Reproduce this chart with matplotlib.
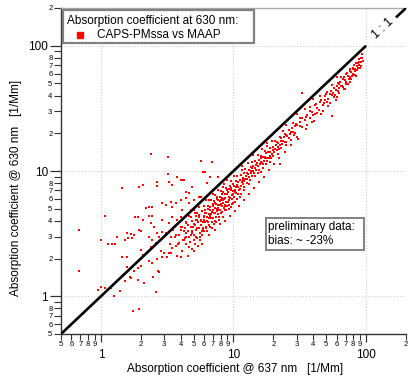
import numpy as np
import matplotlib
matplotlib.use('Agg')
import matplotlib.pyplot as plt
from matplotlib.ticker import LogLocator, FuncFormatter
from matplotlib.patches import Rectangle
from matplotlib.lines import Line2D

plt.rcParams['font.family'] = ['Liberation Sans', 'DejaVu Sans']

# MAAP absorption @ 637 nm (x) vs CAPS-PMssa absorption @ 630 nm (y), 1/Mm
# scattered points at low concentrations
cloud_pairs = [
    (2.40, 13.6), (3.22, 12.9), (5.67, 12.0), (3.22, 9.46), (3.76, 8.96), (2.66, 8.2),
    (3.27, 8.2), (3.45, 7.7), (4.02, 8.5), (4.23, 8.5), (2.06, 7.7), (1.95, 7.5),
    (1.43, 7.3), (2.66, 7.6), (5.87, 9.8),
    (0.685, 3.40), (0.685, 1.58), (1.07, 4.39), (1.0, 2.83), (0.95, 1.12), (1.0, 1.18),
    (1.07, 1.16), (1.13, 2.63), (1.21, 2.63), (1.27, 2.63), (1.32, 2.99), (1.19, 1.16),
    (1.25, 1.0), (1.39, 1.10), (1.43, 2.04), (1.56, 2.04), (1.56, 1.70), (1.51, 1.32),
    (1.65, 1.42), (1.70, 1.39), (1.76, 0.76), (1.95, 0.79), (1.79, 1.58), (1.89, 1.36),
    (1.92, 1.67), (2.02, 1.73), (2.06, 2.15), (2.13, 1.27), (2.02, 2.36), (1.95, 3.40),
    (2.02, 3.34), (1.82, 4.31), (1.89, 4.31), (2.06, 4.08), (1.56, 3.22), (1.59, 2.94),
    (1.70, 3.16), (1.79, 3.10), (1.73, 2.94), (1.51, 2.83), (2.20, 5.09), (2.32, 5.18),
    (2.44, 5.18), (2.32, 4.39), (2.44, 4.39), (2.40, 3.86), (2.53, 3.59), (2.32, 2.99),
    (2.44, 2.83), (2.40, 2.49), (2.62, 2.68), (2.32, 1.90), (2.44, 1.86), (2.66, 1.97),
    (2.75, 1.55), (2.49, 1.42), (2.71, 1.58), (2.62, 1.08), (2.90, 2.04), (2.99, 2.23),
    (3.27, 2.23), (3.17, 2.04), (3.45, 2.45), (2.85, 2.28), (2.90, 5.57), (3.10, 5.37),
    (3.39, 5.67), (3.45, 5.18), (3.69, 5.57), (4.02, 5.88), (4.38, 6.11), (4.61, 6.7),
    (5.03, 4.9), (2.90, 4.08), (3.27, 3.86), (3.45, 4.31), (3.76, 4.08), (4.02, 3.59),
    (4.38, 3.86), (4.77, 4.31), (5.19, 4.08), (5.47, 4.47), (3.10, 3.22), (3.39, 2.99),
    (3.69, 3.10), (4.02, 3.40), (4.38, 2.99), (4.86, 3.22), (5.29, 3.53), (3.88, 2.68),
    (4.23, 2.83), (4.61, 2.49), (5.03, 2.28), (3.76, 2.08), (4.02, 2.04), (2.90, 3.28),
    (2.66, 3.22), (2.75, 2.99),
    (6.85, 11.8), (6.07, 9.8), (6.28, 8.0), (7.7, 8.9), (5.47, 6.2), (4.08, 8.5),
    (4.38, 6.8), (4.86, 7.5), (5.03, 5.9), (4.61, 5.6), (5.67, 6.2), (4.08, 4.9),
    (6.7, 9.0), (7.7, 9.0), (5.96, 9.8),
    (32.7, 41.6), (55.7, 27.3), (22.5, 11.4),
]

# main band below the 1:1 line
band_pairs = [
    (3.9, 3.1), (4.1, 3.6), (4.3, 2.9), (4.4, 3.9), (4.5, 3.3), (4.6, 4.4), (4.7, 2.7),
    (4.8, 3.6), (4.9, 4.0), (5.0, 3.1), (5.1, 4.6), (5.2, 3.4), (5.3, 2.9), (5.4, 3.9),
    (5.5, 4.3), (5.6, 3.2), (5.7, 3.7), (5.8, 4.8), (5.9, 3.5), (6.0, 4.1), (4.2, 3.3),
    (4.6, 3.0), (5.0, 3.8), (5.3, 4.1), (5.6, 2.8), (5.9, 3.9), (3.6, 3.0), (3.8, 2.6),
    (4.0, 4.3), (4.4, 2.6), (4.8, 4.9), (5.1, 2.6), (5.5, 5.2), (5.8, 3.1), (3.5, 3.4),
    (3.7, 2.5), (4.3, 3.5), (4.9, 3.3), (5.2, 4.4), (5.7, 4.1), (6.0, 3.3), (4.1, 2.3),
    (4.5, 2.1), (4.9, 2.4), (5.4, 2.5), (5.8, 2.6), (3.3, 2.6), (3.4, 2.2),
    (6.0, 4.3), (6.0, 3.3), (6.0, 5.3), (6.1, 3.9), (6.1, 4.9), (6.2, 3.6), (6.2, 4.65),
    (6.2, 5.9), (6.3, 4.3), (6.3, 3.3), (6.4, 5.3), (6.4, 3.9), (6.5, 4.55), (6.5, 3.7),
    (6.5, 5.85), (6.6, 4.35), (6.6, 5.15), (6.7, 3.6), (6.7, 4.9), (6.8, 4.2), (6.8, 5.85),
    (6.9, 4.75), (6.9, 3.5), (7.0, 5.3), (7.0, 4.2), (7.0, 6.5), (7.1, 4.6), (7.1, 5.75),
    (7.2, 4.0), (7.2, 5.1), (7.3, 4.6), (7.3, 6.4), (7.4, 5.5), (7.4, 3.9), (7.5, 5.0),
    (7.5, 6.15), (7.6, 4.5), (7.6, 5.85), (7.7, 5.4), (7.7, 7.0), (7.8, 4.85), (7.8, 4.3),
    (7.9, 6.25), (7.9, 5.35), (8.0, 5.85), (8.0, 4.65), (8.0, 6.9), (8.2, 5.25), (8.2, 6.55),
    (8.3, 4.3), (8.3, 5.9), (8.4, 5.6), (8.4, 7.5), (8.6, 5.25), (8.6, 6.55), (8.7, 6.1),
    (8.7, 4.85), (8.8, 7.3), (8.8, 5.7), (9.0, 6.5), (9.0, 5.3), (9.0, 8.45), (9.2, 6.25),
    (9.2, 7.2), (9.3, 5.0), (9.3, 5.85), (9.5, 7.0), (9.5, 8.25), (9.7, 6.4), (9.7, 5.5),
    (9.9, 7.9), (9.9, 6.95), (10.1, 6.25), (10.1, 7.6), (10.1, 9.2), (10.3, 7.0), (10.3, 5.65),
    (10.5, 8.3), (10.5, 6.7), (10.7, 7.7), (10.7, 9.2), (10.9, 6.55), (10.9, 7.5), (11.1, 8.55),
    (11.1, 7.2), (11.3, 9.25), (11.3, 6.55), (11.5, 8.15), (11.5, 10.2), (11.8, 7.9),
    (11.8, 8.85), (12.0, 7.45), (12.0, 9.6),
    (12.3, 8.6), (12.3, 10.3), (12.6, 8.05), (12.6, 9.7), (12.9, 9.4), (12.9, 11.6),
    (13.2, 9.0), (13.2, 7.9), (13.5, 10.8), (13.5, 10.0), (13.8, 9.1), (13.8, 11.9),
    (14.1, 10.0), (14.1, 11.0), (14.5, 9.15), (14.5, 12.0), (14.8, 11.1), (14.8, 10.2),
    (15.2, 13.4), (15.2, 10.9), (15.6, 10.1), (15.6, 12.3), (16.0, 11.8), (16.0, 13.1),
    (16.0, 9.75), (16.4, 11.5), (16.4, 14.9), (16.8, 12.9), (16.8, 11.3), (17.2, 14.4),
    (17.2, 12.6), (17.6, 11.3), (17.6, 13.9), (18.0, 12.8), (18.0, 15.7), (18.5, 14.1),
    (18.5, 12.6), (19.0, 15.4), (19.0, 14.1), (19.0, 11.8), (19.5, 17.4), (19.5, 13.65),
    (20.0, 15.6), (20.0, 13.2), (20.6, 15.0), (20.6, 17.5), (21.2, 14.6), (21.2, 17.0),
    (21.8, 16.6), (21.8, 13.7), (22.4, 18.6), (22.4, 16.1), (23.0, 15.4), (23.0, 18.2),
    (23.7, 17.5), (23.7, 20.9), (24.4, 17.1), (24.4, 19.8), (25.0, 16.0), (25.0, 19.25),
    (26.0, 21.3), (26.0, 18.5), (27.0, 20.3), (27.0, 17.8), (28.0, 24.1), (28.0, 20.4),
    (29.0, 20.0), (29.0, 22.9), (30.0, 18.6), (30.0, 23.1), (31.5, 26.5), (31.5, 22.7),
    (33.0, 22.4), (33.0, 26.4), (34.5, 31.0), (34.5, 25.5), (36.0, 23.4), (36.0, 28.1),
    (37.5, 26.6), (37.5, 32.3), (39.0, 29.6), (39.0, 24.6), (41.0, 33.6), (41.0, 28.7),
    (43.0, 31.8), (43.0, 28.8), (45.0, 35.6), (45.0, 39.6), (47.0, 33.8), (47.0, 30.1),
    (49.0, 39.7), (49.0, 36.75),
    (51.0, 35.7), (51.0, 42.8), (53.0, 40.8), (53.0, 35.0), (55.0, 40.2), (55.0, 48.4),
    (57.0, 45.6), (57.0, 39.3), (59.0, 44.3), (59.0, 37.2), (61.0, 50.6), (61.0, 43.3),
    (63.0, 49.1), (63.0, 42.2), (65.0, 48.1), (65.0, 55.9), (67.0, 46.9), (67.0, 54.3),
    (69.0, 53.1), (69.0, 44.9), (71.0, 59.6), (71.0, 51.8), (73.0, 57.7), (73.0, 49.6),
    (75.0, 56.3), (75.0, 65.3), (77.0, 54.7), (77.0, 61.6), (79.0, 60.0), (79.0, 65.6),
    (81.0, 58.3), (81.0, 69.7), (83.0, 64.7), (83.0, 58.1), (85.0, 68.9), (85.0, 63.8),
    (87.0, 73.1), (87.0, 67.0), (89.0, 70.3), (89.0, 78.3), (91.0, 74.6), (91.0, 69.2),
    (93.0, 79.1), (93.0, 85.6),
]

# more of the band, in between the values above
band_extra_pairs = [
    (4.15, 2.8), (4.35, 3.2), (4.55, 3.7), (4.75, 3.1), (4.95, 3.6), (5.05, 2.8),
    (5.25, 3.0), (5.45, 3.5), (5.55, 3.0), (5.75, 3.3), (5.95, 4.4), (5.15, 3.7),
    (5.35, 4.6), (5.65, 4.0), (5.85, 3.4), (6.05, 4.6), (6.15, 3.5), (6.35, 4.0),
    (6.45, 5.0), (6.55, 4.2), (6.75, 4.5), (6.85, 3.9), (6.95, 5.5), (7.05, 4.9),
    (7.15, 3.8), (7.25, 5.6), (7.35, 4.3), (7.45, 6.0), (7.55, 4.8), (7.65, 5.1),
    (7.75, 4.1), (7.85, 5.8), (7.95, 4.9), (8.1, 5.5), (8.15, 6.1), (8.25, 4.7),
    (8.35, 6.8), (8.45, 5.1), (8.55, 6.0), (8.65, 5.4), (8.75, 6.5), (8.85, 4.9),
    (8.95, 7.0), (9.05, 5.7), (9.15, 6.8), (9.25, 5.4), (9.35, 7.6), (9.45, 6.1),
    (9.55, 5.2), (9.65, 7.3), (9.75, 6.0), (9.85, 6.6), (9.95, 5.6), (10.2, 6.8),
    (10.4, 7.4), (10.6, 6.0), (10.8, 8.1), (11.0, 7.0), (11.2, 6.2), (11.4, 7.6),
    (11.7, 8.4), (11.9, 7.0), (12.1, 8.3),
    (12.4, 9.2), (12.7, 8.6), (13.0, 10.1), (13.3, 8.4), (13.6, 9.6), (13.9, 10.6),
    (14.3, 9.6), (14.6, 10.6), (15.0, 11.6), (15.4, 9.7), (15.8, 11.3), (16.2, 12.6),
    (16.6, 10.6), (17.0, 12.0), (17.4, 13.0), (17.8, 12.1), (18.2, 14.3), (18.8, 13.2),
    (19.2, 12.6), (19.8, 14.8), (20.3, 14.2), (20.9, 16.2), (21.5, 15.6), (22.1, 14.9),
    (22.7, 17.3), (23.4, 16.3), (24.0, 18.6), (24.7, 16.9), (25.5, 18.9), (26.5, 19.6),
    (27.5, 21.9), (28.5, 19.5), (29.5, 23.6),
    (32.0, 24.6), (35.0, 27.0), (38.0, 30.2), (40.0, 27.8), (42.0, 34.4), (44.0, 30.5),
    (46.0, 36.9), (48.0, 34.6), (50.0, 41.0), (52.0, 37.4), (54.0, 43.7), (56.0, 42.0),
    (58.0, 40.6), (60.0, 48.0), (62.0, 45.9), (64.0, 51.8), (66.0, 47.5), (68.0, 56.4),
    (70.0, 49.7), (72.0, 60.5), (74.0, 54.0), (76.0, 63.1), (78.0, 57.7), (80.0, 66.4),
    (82.0, 62.3), (84.0, 72.2), (86.0, 64.5), (88.0, 73.9), (90.0, 66.6), (92.0, 80.0),
    (94.0, 76.1),
]

# points on the lower and upper edges of the band
band_edge_pairs = [
    (6.5, 3.1), (7.2, 3.4), (7.9, 3.8), (8.6, 4.0), (9.4, 4.4), (10.2, 4.8), (11.0, 5.3),
    (12.0, 5.9), (13.1, 6.6), (14.3, 7.3), (15.6, 8.1), (17.0, 9.0), (18.6, 10.2),
    (20.3, 11.4), (22.2, 12.7), (24.5, 14.3), (27.0, 16.0), (30.5, 18.0), (35.0, 21.5),
    (40.5, 25.0), (46.0, 28.5), (52.0, 33.0), (60.0, 39.0), (68.0, 45.0), (76.0, 51.0),
    (84.0, 57.0), (8.5, 7.9), (11.5, 10.9), (14.0, 13.3), (18.0, 16.8), (25.0, 23.5),
    (40.0, 37.5), (60.0, 56.5), (30.0, 28.5),
]

x_label = 'Absorption coefficient @ 637 nm   [1/Mm]'
y_label = 'Absorption coefficient @ 630 nm   [1/Mm]'
legend_title = 'Absorption coefficient at 630 nm:'
legend_entry = 'CAPS-PMssa vs MAAP'
note_lines = ['preliminary data:', 'bias: ~ -23%']

W, H = 409, 381


def fx(px):
    return px / W


def fy(py):
    return 1 - py / H


def minor_label(skip_nine):
    def fmt(v, pos):
        m = int(round(v / 10 ** np.floor(np.log10(v) + 1e-9)))
        if m == 1 or (skip_nine and m == 9):
            return ''
        return str(m)
    return FuncFormatter(fmt)


points = np.array(cloud_pairs + band_pairs + band_extra_pairs + band_edge_pairs)

fig = plt.figure(figsize=(W / 100, H / 100), dpi=100)
ax = fig.add_axes([fx(61), fy(334), 345 / W, 326 / H])

ax.set_xscale('log')
ax.set_yscale('log')
ax.set_xlim(0.5, 200)
ax.set_ylim(0.5, 200)

ax.scatter(points[:, 0], points[:, 1], marker='s', s=3.8, color='#ff0000', linewidths=0, zorder=2)

# 1:1 line, interrupted by its label
ax.plot([0.5, 100], [0.5, 100], color='black', lw=1.9, zorder=3, solid_capstyle='butt')
ax.plot([168, 200], [168, 200], color='black', lw=1.9, zorder=3, solid_capstyle='butt')
ax.text(133, 136, '1 : 1', rotation=43, ha='center', va='center', fontsize=9, zorder=4)

# axes look
ax.spines['right'].set_visible(False)
ax.spines['top'].set_color('#aaaaaa')
ax.spines['top'].set_linewidth(1.0)
for side in ['left', 'bottom']:
    ax.spines[side].set_color('#333333')
    ax.spines[side].set_linewidth(1.0)

ax.xaxis.set_major_locator(LogLocator(base=10, numticks=10))
ax.yaxis.set_major_locator(LogLocator(base=10, numticks=10))
ax.xaxis.set_minor_locator(LogLocator(base=10, subs=np.arange(2, 10), numticks=20))
ax.yaxis.set_minor_locator(LogLocator(base=10, subs=np.arange(2, 10), numticks=20))
ax.xaxis.set_major_formatter(FuncFormatter(lambda v, p: '%g' % v))
ax.yaxis.set_major_formatter(FuncFormatter(lambda v, p: '%g' % v))
ax.xaxis.set_minor_formatter(minor_label(False))
ax.yaxis.set_minor_formatter(minor_label(True))

ax.tick_params(axis='x', which='major', direction='out', length=6, width=0.9, pad=4.5,
               labelsize=8.5, color='#333333')
ax.tick_params(axis='x', which='minor', direction='out', length=4, width=0.8, pad=1.2,
               labelsize=5.5, color='#333333')
ax.tick_params(axis='y', which='major', direction='out', length=8, width=0.9, pad=1.5,
               labelsize=8.5, color='#333333')
ax.tick_params(axis='y', which='minor', direction='out', length=5, width=0.8, pad=1.2,
               labelsize=5.5, color='#333333')

ax.grid(True, which='major', linestyle=':', color='#cccccc', linewidth=0.8, zorder=0)

# legend box
fig.add_artist(Rectangle((fx(63), fy(43)), 191 / W, 33 / H, transform=fig.transFigure,
                         facecolor='white', edgecolor='#808080', lw=1.6, zorder=5))
fig.text(fx(67), fy(21), legend_title, va='center', ha='left', fontsize=8.5, zorder=6)
fig.add_artist(Line2D([fx(80)], [fy(35)], marker='s', ms=5, color='#ff0000', lw=0,
                      transform=fig.transFigure, zorder=6))
fig.text(fx(97), fy(35), legend_entry, va='center', ha='left', fontsize=8.5, zorder=6)

# note box
fig.add_artist(Rectangle((fx(266), fy(250)), 98 / W, 32 / H, transform=fig.transFigure,
                         facecolor='white', edgecolor='#808080', lw=1.4, zorder=5))
fig.text(fx(268), fy(227), note_lines[0], va='center', ha='left', fontsize=8.5, zorder=6)
fig.text(fx(268), fy(241), note_lines[1], va='center', ha='left', fontsize=8.5, zorder=6)

# axis titles
fig.text(fx(235), fy(369), x_label, ha='center', va='center', fontsize=8.5)
fig.text(fx(16), fy(188), y_label, ha='center', va='center', rotation=90, fontsize=8.5)

fig.savefig('out.png', dpi=100, facecolor='white')
